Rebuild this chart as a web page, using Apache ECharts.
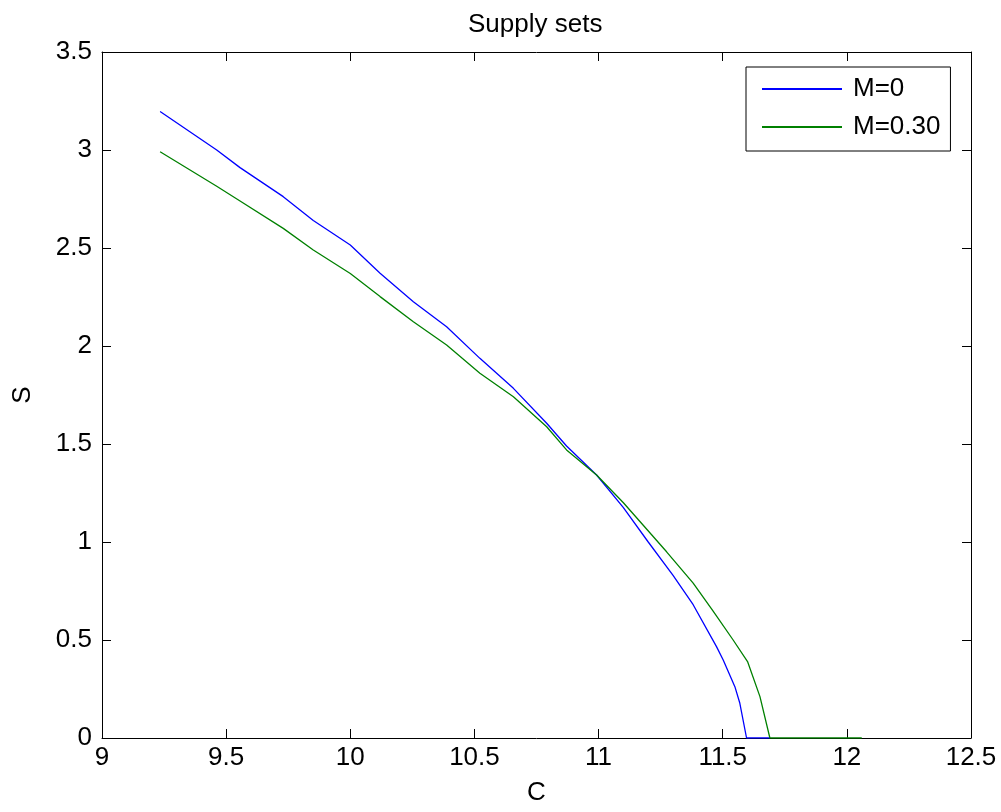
<!DOCTYPE html>
<html>
<head>
<meta charset="utf-8">
<script src="https://cdn.jsdelivr.net/npm/echarts@6/dist/echarts.min.js"></script>
<style>html,body{margin:0;padding:0;background:#fff;}#c{width:1001px;height:812px;}</style>
</head>
<body>
<div id="c"></div>
<script>
const titleText = 'Supply sets';
const xName = 'C';
const yName = 'S';
const seriesNames = ['M=0', 'M=0.30'];
const xTicks = [9, 9.5, 10, 10.5, 11, 11.5, 12, 12.5];
const yTicks = [0, 0.5, 1, 1.5, 2, 2.5, 3, 3.5];

// M=0 : C values and S values
const blueC = [9.234, 9.462, 9.556, 9.73, 9.851, 10.0, 10.12, 10.254, 10.388, 10.522, 10.657, 10.791, 10.871, 10.992, 11.1, 11.2, 11.3, 11.381, 11.475, 11.502, 11.549, 11.569, 11.596, 11.69];
const blueS = [3.196, 3.0, 2.91, 2.762, 2.64, 2.515, 2.371, 2.226, 2.098, 1.937, 1.784, 1.606, 1.49, 1.342, 1.175, 1.0, 0.83, 0.68, 0.466, 0.398, 0.262, 0.177, 0, 0];
// M=0.30 : C values and S values
const greenC = [9.234, 9.462, 9.556, 9.73, 9.851, 10.0, 10.12, 10.254, 10.388, 10.522, 10.657, 10.791, 10.871, 10.992, 11.1, 11.274, 11.381, 11.46, 11.542, 11.6, 11.65, 11.69, 12.06];
const greenS = [2.991, 2.815, 2.74, 2.6, 2.49, 2.37, 2.252, 2.124, 2.005, 1.861, 1.741, 1.588, 1.47, 1.342, 1.2, 0.95, 0.79, 0.65, 0.5, 0.39, 0.211, 0, 0];

const FONT = "'Liberation Sans', Arial, sans-serif";
const pair = (xs, ys) => xs.map((x, i) => [x, ys[i]]);

const chart = echarts.init(document.getElementById('c'), null, {renderer: 'canvas'});
const axisCommon = {
  type: 'value',
  axisLine: {show: true, onZero: false, lineStyle: {color: '#000', width: 1}},
  axisTick: {show: true, inside: true, length: 9, lineStyle: {color: '#000'}},
  splitLine: {show: false}
};
chart.setOption({
  animation: false,
  backgroundColor: '#fff',
  title: {
    text: titleText, left: 463, top: 7,
    textStyle: {fontFamily: FONT, fontSize: 26, fontWeight: 'normal', color: '#000'}
  },
  legend: {
    left: 746, top: 67, orient: 'vertical',
    data: seriesNames,
    icon: 'rect', itemWidth: 80, itemHeight: 2, itemGap: 8,
    padding: [7, 10, 9, 16],
    borderColor: '#000', borderWidth: 1, backgroundColor: '#fff',
    textStyle: {fontFamily: FONT, fontSize: 26, color: '#000', lineHeight: 30, padding: [0, 0, 0, 6]}
  },
  grid: {left: 102, right: 30, top: 52, bottom: 74, containLabel: false},
  xAxis: [
    Object.assign({}, axisCommon, {
      position: 'bottom', min: xTicks[0], max: xTicks[xTicks.length - 1], interval: 0.5,
      name: xName, nameLocation: 'middle', nameGap: 42,
      nameTextStyle: {fontFamily: FONT, fontSize: 26, color: '#000'},
      axisLabel: {fontFamily: FONT, fontSize: 26, color: '#000', margin: 7}
    }),
    Object.assign({}, axisCommon, {
      position: 'top', min: xTicks[0], max: xTicks[xTicks.length - 1], interval: 0.5,
      axisLabel: {show: false}
    })
  ],
  yAxis: [
    Object.assign({}, axisCommon, {
      position: 'left', min: yTicks[0], max: yTicks[yTicks.length - 1], interval: 0.5,
      name: yName, nameLocation: 'middle', nameGap: 66,
      nameTextStyle: {fontFamily: FONT, fontSize: 26, color: '#000'},
      axisLabel: {fontFamily: FONT, fontSize: 26, color: '#000', margin: 10}
    }),
    Object.assign({}, axisCommon, {
      position: 'right', min: yTicks[0], max: yTicks[yTicks.length - 1], interval: 0.5,
      axisLabel: {show: false}
    })
  ],
  series: [
    {name: seriesNames[0], type: 'line', data: pair(blueC, blueS), showSymbol: false, symbol: 'none',
     itemStyle: {color: '#0000ff'}, lineStyle: {color: '#0000ff', width: 1.3}},
    {name: seriesNames[1], type: 'line', data: pair(greenC, greenS), showSymbol: false, symbol: 'none',
     itemStyle: {color: '#008000'}, lineStyle: {color: '#008000', width: 1.3}}
  ]
});
</script>
</body>
</html>
